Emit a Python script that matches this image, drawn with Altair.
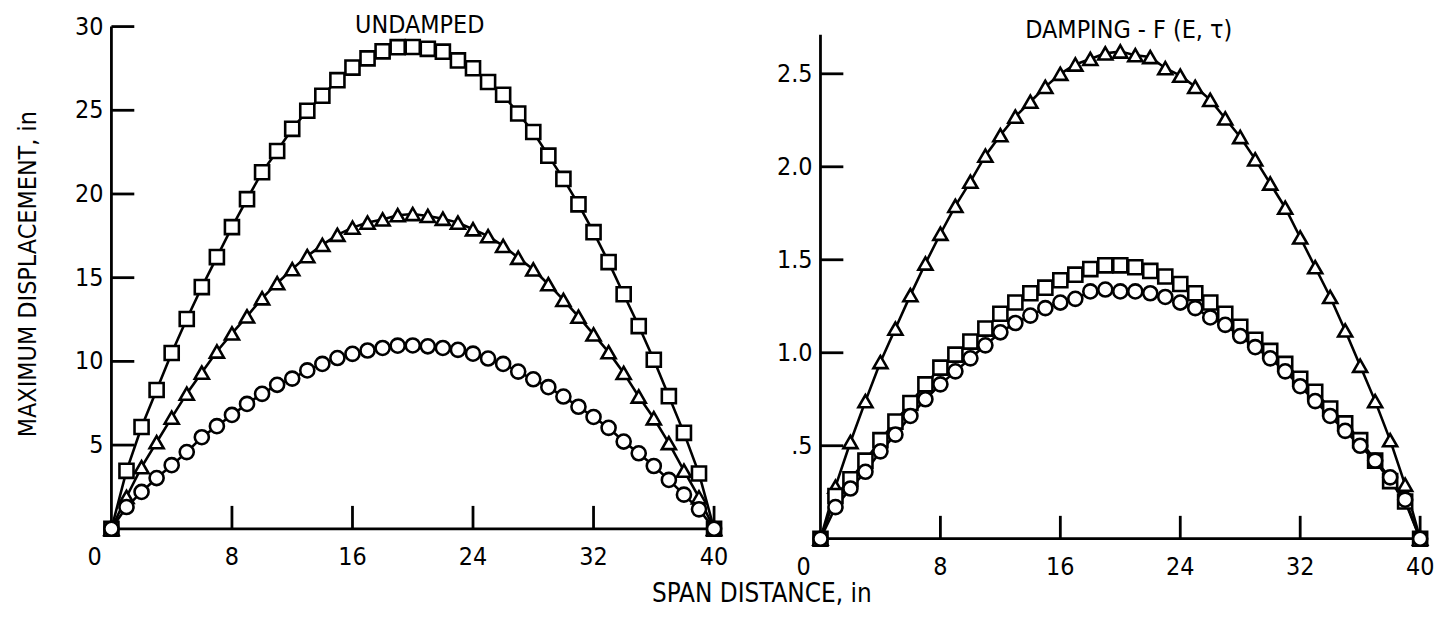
import altair as alt
import pandas as pd

# ---------------- data ----------------
span = [0, 1, 2, 3, 4, 5, 6, 7, 8, 9, 10, 11, 12, 13, 14, 15, 16, 17, 18, 19, 20,
        21, 22, 23, 24, 25, 26, 27, 28, 29, 30, 31, 32, 33, 34, 35, 36, 37, 38, 39, 40]

und_square = [0, 3.46, 6.08, 8.29, 10.5, 12.53, 14.44, 16.23, 18.02, 19.69, 21.3,
              22.57, 23.89, 24.97, 25.87, 26.8, 27.55, 28.1, 28.52, 28.77, 28.78,
              28.67, 28.5, 27.98, 27.51, 26.69, 25.93, 24.81, 23.7, 22.29, 20.9,
              19.38, 17.72, 15.93, 14.01, 12.11, 10.1, 7.92, 5.73, 3.3, 0]
und_triangle = [0, 1.9, 3.68, 5.17, 6.64, 8.07, 9.33, 10.59, 11.67, 12.69, 13.77,
                14.67, 15.51, 16.29, 16.96, 17.56, 17.99, 18.29, 18.48, 18.73, 18.8,
                18.69, 18.52, 18.29, 17.89, 17.48, 16.9, 16.19, 15.49, 14.61, 13.67,
                12.67, 11.61, 10.55, 9.31, 7.9, 6.6, 5.12, 3.47, 1.88, 0]
und_circle = [0, 1.3, 2.2, 3.03, 3.8, 4.58, 5.47, 6.13, 6.8, 7.46, 8.06,
              8.6, 8.97, 9.46, 9.85, 10.2, 10.45, 10.65, 10.8, 10.94, 10.95,
              10.9, 10.8, 10.69, 10.46, 10.17, 9.85, 9.39, 8.93, 8.46, 7.9,
              7.29, 6.68, 6.03, 5.21, 4.51, 3.75, 2.92, 2.04, 1.16, 0]

dmp_triangle = [0, 0.28, 0.52, 0.74, 0.95, 1.13, 1.31, 1.48, 1.64, 1.79, 1.92,
                2.06, 2.17, 2.27, 2.35, 2.43, 2.5, 2.55, 2.58, 2.61, 2.62,
                2.6, 2.59, 2.53, 2.49, 2.43, 2.36, 2.26, 2.16, 2.04, 1.91,
                1.78, 1.62, 1.46, 1.3, 1.12, 0.93, 0.74, 0.53, 0.29, 0]
dmp_square = [0, 0.23, 0.32, 0.42, 0.53, 0.63, 0.73, 0.83, 0.92, 0.99, 1.06,
              1.13, 1.21, 1.27, 1.32, 1.35, 1.39, 1.42, 1.45, 1.47, 1.47,
              1.46, 1.44, 1.41, 1.37, 1.32, 1.27, 1.21, 1.14, 1.07, 1.01,
              0.94, 0.86, 0.79, 0.70, 0.62, 0.53, 0.42, 0.31, 0.2, 0]
dmp_circle = [0, 0.17, 0.27, 0.36, 0.47, 0.56, 0.66, 0.75, 0.83, 0.9, 0.97,
              1.04, 1.11, 1.16, 1.2, 1.24, 1.27, 1.29, 1.33, 1.34, 1.33,
              1.33, 1.32, 1.3, 1.27, 1.24, 1.19, 1.15, 1.09, 1.03, 0.97,
              0.9, 0.82, 0.74, 0.66, 0.58, 0.5, 0.42, 0.33, 0.21, 0]

x_tick_values = [8, 16, 24, 32, 40]
x_label_values = [0, 8, 16, 24, 32, 40]
x_label_texts = ["0", "8", "16", "24", "32", "40"]
x_max = 40

left_y_ticks = [5, 10, 15, 20, 25, 30]
left_y_labels = ["5", "10", "15", "20", "25", "30"]
left_axis_top = 30

right_y_ticks = [0.5, 1.0, 1.5, 2.0, 2.5]
right_y_labels = [".5", "1.0", "1.5", "2.0", "2.5"]
right_axis_top = 2.71

left_title = "UNDAMPED"
right_title = "DAMPING - F (E, \u03c4)"
y_title = "MAXIMUM DISPLACEMENT, in"
x_title = "SPAN DISTANCE, in"

series_order = ["triangle", "square", "circle"]

# ---------------- layout (pixels, within the single view) ----------------
W, H = 1316, 515
L_X0, L_X40 = 0, 606          # left panel: x=0 and x=40
R_X0, R_X40 = 713, 1316       # right panel: x=0 and x=40
L_YTOP_PX, L_Y0_PX = 0, 505   # left panel: y=30 and y=0
R_Y0_PX, R_Y25_PX = 515, 47.5 # right panel: y=0 and y=2.5

FONT = "Liberation Sans Narrow, DejaVu Sans Condensed, Arial Narrow, sans-serif"
LW = 2.6
TICK_LEN = 23
TICK_FS = 25

lx = (L_X40 - L_X0) / x_max
rx = (R_X40 - R_X0) / x_max
ly = (L_Y0_PX - L_YTOP_PX) / left_axis_top
ry = (R_Y0_PX - R_Y25_PX) / 2.5

left_xs = alt.Scale(domain=[-L_X0 / lx, (W - L_X0) / lx], nice=False, zero=False)
right_xs = alt.Scale(domain=[-R_X0 / rx, (W - R_X0) / rx], nice=False, zero=False)
left_ys = alt.Scale(domain=[-(H - L_Y0_PX) / ly, L_Y0_PX / ly], nice=False, zero=False)
right_ys = alt.Scale(domain=[-(H - R_Y0_PX) / ry, R_Y0_PX / ry], nice=False, zero=False)


def panel(tri, sq, cir, xs, ys, yticks, ylabels, ytop):
    vals = {"triangle": tri, "square": sq, "circle": cir}
    rows = []
    for s in series_order:
        for x, y in zip(span, vals[s]):
            rows.append({"x": x, "y": y, "s": s})
    df = pd.DataFrame(rows)

    def X(f):
        return alt.X(f, scale=xs, axis=None)

    def Y(f):
        return alt.Y(f, scale=ys, axis=None)

    lines = alt.Chart(df).mark_line(color="black", strokeWidth=LW).encode(
        X("x:Q"), Y("y:Q"), detail="s:N")
    pts = alt.Chart(df).mark_point(
        filled=True, fill="white", stroke="black", strokeWidth=LW, size=200, opacity=1
    ).encode(
        X("x:Q"), Y("y:Q"),
        shape=alt.Shape("s:N", scale=alt.Scale(domain=["square", "triangle", "circle"],
                                               range=["square", "triangle-up", "circle"]),
                        legend=None))

    yaxis = alt.Chart(pd.DataFrame({"z": [0], "lo": [0], "hi": [ytop]})).mark_rule(
        color="black", strokeWidth=2.8).encode(X("z:Q"), Y("lo:Q"), y2="hi:Q")
    xaxis = alt.Chart(pd.DataFrame({"z": [0], "lo": [0], "hi": [x_max]})).mark_rule(
        color="black", strokeWidth=2.8).encode(Y("z:Q"), X("lo:Q"), x2="hi:Q")

    ytick_df = pd.DataFrame({"v": yticks, "z": [0] * len(yticks), "t": ylabels})
    yt = alt.Chart(ytick_df).mark_rule(color="black", strokeWidth=2.8, x2Offset=TICK_LEN).encode(
        X("z:Q"), x2="z:Q", y=Y("v:Q"))
    ylab = alt.Chart(ytick_df).mark_text(
        align="right", baseline="middle", dx=-8, fontSize=TICK_FS, font=FONT, color="black"
    ).encode(X("z:Q"), Y("v:Q"), text="t:N")

    xtick_df = pd.DataFrame({"v": x_tick_values, "z": [0] * len(x_tick_values)})
    xt = alt.Chart(xtick_df).mark_rule(color="black", strokeWidth=2.8, y2Offset=-TICK_LEN).encode(
        X("v:Q"), Y("z:Q"), y2="z:Q")

    xlab_df = pd.DataFrame({"v": x_label_values, "z": [0] * len(x_label_values), "t": x_label_texts})
    xlab = alt.Chart(xlab_df).transform_filter("datum.v != 0").mark_text(
        align="center", baseline="middle", dy=28, fontSize=TICK_FS, font=FONT, color="black"
    ).encode(X("v:Q"), Y("z:Q"), text="t:N")
    xlab0 = alt.Chart(xlab_df).transform_filter("datum.v == 0").mark_text(
        align="center", baseline="middle", dy=28, dx=-17, fontSize=TICK_FS, font=FONT, color="black"
    ).encode(X("v:Q"), Y("z:Q"), text="t:N")

    return alt.layer(yaxis, xaxis, yt, xt, ylab, xlab, xlab0, lines, pts)


left = panel(und_triangle, und_square, und_circle, left_xs, left_ys,
             left_y_ticks, left_y_labels, left_axis_top)
right = panel(dmp_triangle, dmp_square, dmp_circle, right_xs, right_ys,
              right_y_ticks, right_y_labels, right_axis_top)


def label(text, x, y, size, angle=0):
    return alt.Chart(pd.DataFrame({"t": [text]})).mark_text(
        align="center", baseline="middle", fontSize=size, font=FONT, color="black", angle=angle
    ).encode(x=alt.value(x), y=alt.value(y), text="t:N")


titles = alt.layer(
    label(left_title, 310, -2, 25),
    label(right_title, 1023, 3, 25),
    label(y_title, -84, 249, 25, angle=270),
    label(x_title, 654, 571, 26),
)

chart = alt.layer(left, right, titles).resolve_scale(
    x="independent", y="independent"
).properties(
    width=W, height=H,
    autosize=alt.AutoSizeParams(type="none"),
    padding={"left": 104, "top": 17, "right": 23, "bottom": 71},
    background="white",
).configure_view(stroke=None)

chart.save("out.html", embed_options={"renderer": "svg", "actions": False})
